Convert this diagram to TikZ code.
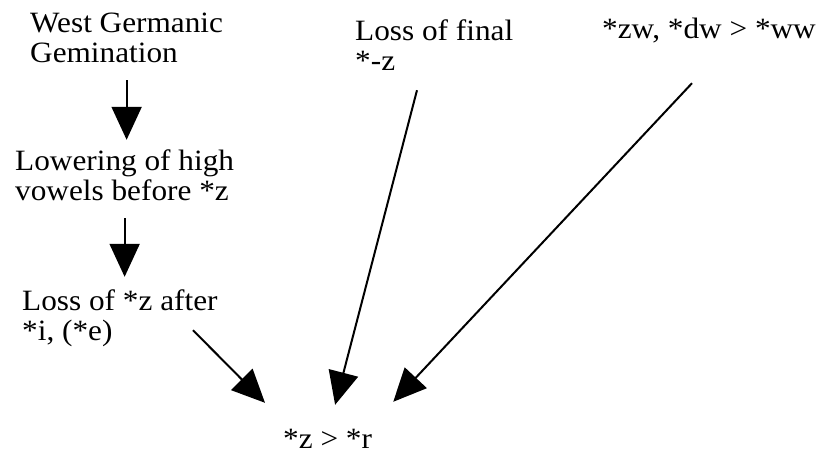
\documentclass[tikz,border=0pt]{standalone}
\usepackage{fontspec}
\setmainfont{Liberation Serif}
\usetikzlibrary{arrows.meta}
\newcommand{\stage}[1]{\scalebox{1.06}[1]{\begin{tabular}[t]{@{}l@{}}#1\end{tabular}}}

\begin{document}
\begin{tikzpicture}[x=1pt,y=-1pt,
      lbl/.style={anchor=base west,inner sep=0pt,font=\fontsize{29.5}{30}\selectfont},
      arr/.style={-{Triangle[length=33pt,width=30pt]},line width=2pt,draw=black}
    ]
    \useasboundingbox[fill=white] (0,0) rectangle (828,453);
    \node[lbl] (wgg)   at (30,32)   {\stage{West Germanic\\Gemination}};
    \node[lbl] (low)   at (15,170)  {\stage{Lowering of high\\vowels before *z}};
    \node[lbl] (lossz) at (22,310)  {\stage{Loss of *z after\\\relax *i, (*e)}};
    \node[lbl] (lfin)  at (355,40)  {\stage{Loss of final\\\relax *-z}};
    \node[lbl] (zw)    at (602,38)  {\stage{*zw, *dw > *ww}};
    \node[lbl] (zr)    at (283,448) {\stage{*z > *r}};
    \draw[arr,shorten <=9pt,shorten >=9pt] (wgg.south) -- (wgg.south |- low.north);
    \draw[arr,shorten <=9pt,shorten >=12pt] (low.south) -- (low.south |- lossz.north);
    \draw[arr] ([shift={(171,-19)}]lossz.south west) -- ([shift={(-18,-24)}]zr.north west);
    \draw[arr] ([shift={(62,11)}]lfin.south west) -- ([shift={(7.5,-22)}]zr.north);
    \draw[arr] ([shift={(90,36)}]zw.south west) -- ([shift={(21,-25)}]zr.north east);
  \end{tikzpicture}
\end{document}
